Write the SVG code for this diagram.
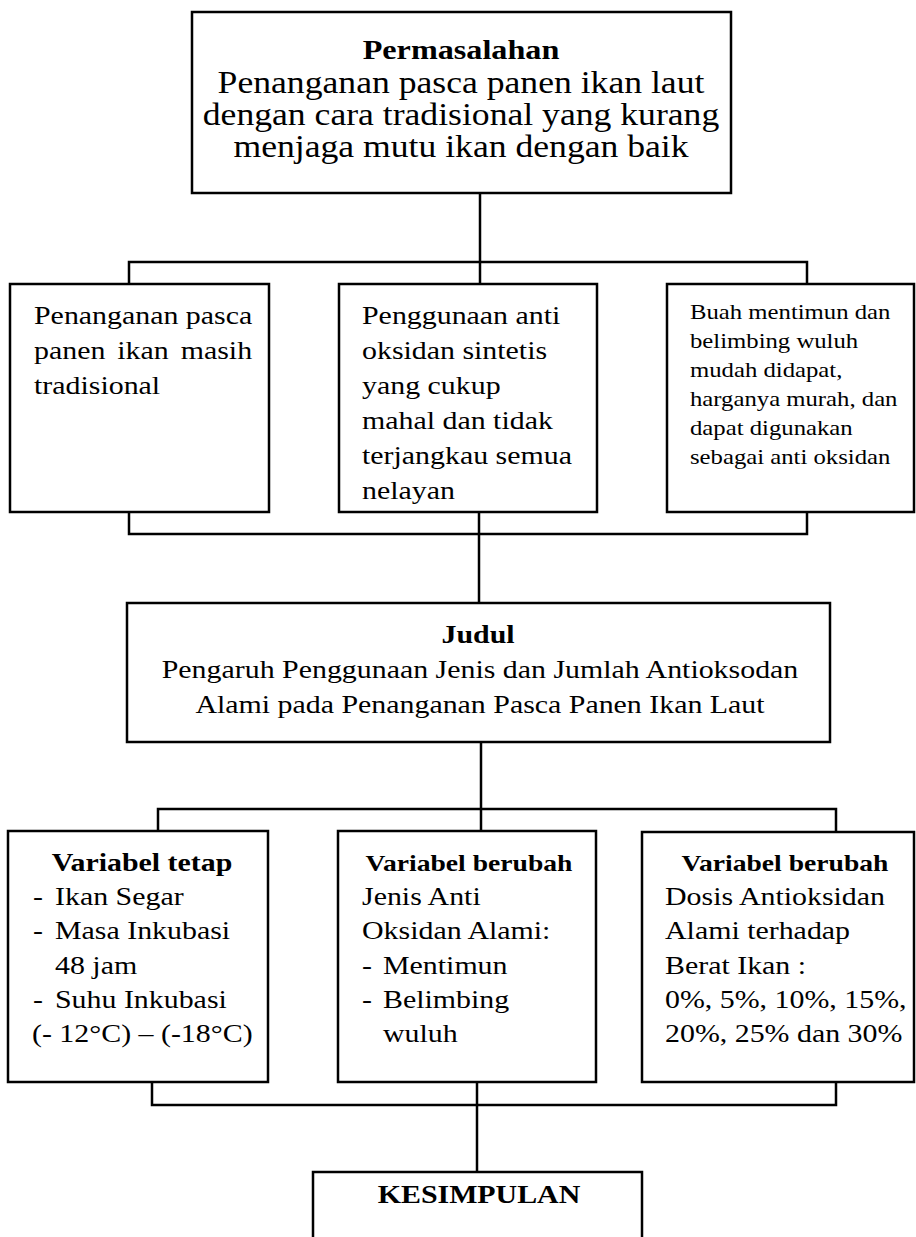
<svg xmlns="http://www.w3.org/2000/svg" width="916" height="1237" viewBox="0 0 916 1237">
<style>
.box{fill:#fff;stroke:#000;stroke-width:2.5}
.conn{fill:none;stroke:#000;stroke-width:2.5}
.t{font-family:"Liberation Serif","Times New Roman",serif;fill:#000}
.b{font-weight:bold}
.m{text-anchor:middle}
.f31{font-size:31px}
.f28{font-size:28px}
.f26{font-size:26px}
.f24{font-size:24px}
.f21{font-size:21.5px}
</style>
<rect width="916" height="1237" fill="#fff"/>
<g id="connectors">
  <path class="conn" d="M480 193V284"/>
  <path class="conn" d="M129 284V262H807V284"/>
  <path class="conn" d="M129 512V534H807V512"/>
  <path class="conn" d="M479 512V603"/>
  <path class="conn" d="M481 742V831"/>
  <path class="conn" d="M158 831V809H836V832"/>
  <path class="conn" d="M152 1082V1105H836V1082"/>
  <path class="conn" d="M477 1082V1172"/>
</g>
<g id="permasalahan">
  <rect class="box" x="192" y="12" width="539" height="181"/>
  <text class="t b f28 m" transform="translate(461 59) scale(1.15 1)">Permasalahan</text>
  <text class="t f31 m" transform="translate(461 93) scale(1.15 1)">Penanganan pasca panen ikan laut</text>
  <text class="t f31 m" transform="translate(461 125) scale(1.15 1)">dengan cara tradisional yang kurang</text>
  <text class="t f31 m" transform="translate(461 157) scale(1.15 1)">menjaga mutu ikan dengan baik</text>
</g>
<g id="masalah1">
  <rect class="box" x="10" y="284" width="259" height="228"/>
  <text class="t f26" transform="translate(34 324) scale(1.15 1)">Penanganan pasca</text>
  <text class="t f26" word-spacing="3.9" transform="translate(34 359) scale(1.15 1)">panen ikan masih</text>
  <text class="t f26" transform="translate(34 394) scale(1.15 1)">tradisional</text>
</g>
<g id="masalah2">
  <rect class="box" x="339" y="284" width="258" height="228"/>
  <text class="t f26" transform="translate(362 324) scale(1.15 1)">Penggunaan anti</text>
  <text class="t f26" transform="translate(362 359) scale(1.15 1)">oksidan sintetis</text>
  <text class="t f26" transform="translate(362 394) scale(1.15 1)">yang cukup</text>
  <text class="t f26" transform="translate(362 429) scale(1.15 1)">mahal dan tidak</text>
  <text class="t f26" transform="translate(362 464) scale(1.15 1)">terjangkau semua</text>
  <text class="t f26" transform="translate(362 499) scale(1.15 1)">nelayan</text>
</g>
<g id="masalah3">
  <rect class="box" x="667" y="284" width="247" height="228"/>
  <text class="t f21" transform="translate(690 319) scale(1.15 1)">Buah mentimun dan</text>
  <text class="t f21" transform="translate(690 348) scale(1.15 1)">belimbing wuluh</text>
  <text class="t f21" transform="translate(690 377) scale(1.15 1)">mudah didapat,</text>
  <text class="t f21" transform="translate(690 406) scale(1.15 1)">harganya murah, dan</text>
  <text class="t f21" transform="translate(690 435) scale(1.15 1)">dapat digunakan</text>
  <text class="t f21" transform="translate(690 464) scale(1.15 1)">sebagai anti oksidan</text>
</g>
<g id="judul">
  <rect class="box" x="127" y="603" width="703" height="139"/>
  <text class="t b f26 m" transform="translate(478 643) scale(1.15 1)">Judul</text>
  <text class="t f26 m" transform="translate(480 678) scale(1.15 1)">Pengaruh Penggunaan Jenis dan Jumlah Antioksodan</text>
  <text class="t f26 m" transform="translate(480 713) scale(1.15 1)">Alami pada Penanganan Pasca Panen Ikan Laut</text>
</g>
<g id="variabel-tetap">
  <rect class="box" x="8" y="831" width="260" height="251"/>
  <text class="t b f26 m" transform="translate(142 871) scale(1.15 1)">Variabel tetap</text>
  <text class="t f26" transform="translate(33 905) scale(1.15 1)">-</text>
  <text class="t f26" transform="translate(55 905) scale(1.15 1)">Ikan Segar</text>
  <text class="t f26" transform="translate(33 939) scale(1.15 1)">-</text>
  <text class="t f26" transform="translate(55 939) scale(1.15 1)">Masa Inkubasi</text>
  <text class="t f26" transform="translate(55 974) scale(1.15 1)">48 jam</text>
  <text class="t f26" transform="translate(33 1008) scale(1.15 1)">-</text>
  <text class="t f26" transform="translate(55 1008) scale(1.15 1)">Suhu Inkubasi</text>
  <text class="t f26" transform="translate(32 1042) scale(1.15 1)">(- 12°C) – (-18°C)</text>
</g>
<g id="variabel-berubah-1">
  <rect class="box" x="338" y="831" width="258" height="251"/>
  <text class="t b f24 m" transform="translate(469 871) scale(1.15 1)">Variabel berubah</text>
  <text class="t f26" transform="translate(362 905) scale(1.15 1)">Jenis Anti</text>
  <text class="t f26" transform="translate(362 939) scale(1.15 1)">Oksidan Alami:</text>
  <text class="t f26" transform="translate(362 974) scale(1.15 1)">-</text>
  <text class="t f26" transform="translate(383 974) scale(1.15 1)">Mentimun</text>
  <text class="t f26" transform="translate(362 1008) scale(1.15 1)">-</text>
  <text class="t f26" transform="translate(383 1008) scale(1.15 1)">Belimbing</text>
  <text class="t f26" transform="translate(383 1042) scale(1.15 1)">wuluh</text>
</g>
<g id="variabel-berubah-2">
  <rect class="box" x="642" y="832" width="272" height="250"/>
  <text class="t b f24 m" transform="translate(785 871) scale(1.15 1)">Variabel berubah</text>
  <text class="t f26" transform="translate(665 905) scale(1.15 1)">Dosis Antioksidan</text>
  <text class="t f26" transform="translate(665 939) scale(1.15 1)">Alami terhadap</text>
  <text class="t f26" transform="translate(665 974) scale(1.15 1)">Berat Ikan :</text>
  <text class="t f26" transform="translate(665 1008) scale(1.15 1)">0%, 5%, 10%, 15%,</text>
  <text class="t f26" transform="translate(665 1042) scale(1.15 1)">20%, 25% dan 30%</text>
</g>
<g id="kesimpulan">
  <rect class="box" x="313" y="1172" width="329" height="90"/>
  <text class="t b f26 m" transform="translate(479 1203) scale(1.15 1)">KESIMPULAN</text>
</g>
</svg>
